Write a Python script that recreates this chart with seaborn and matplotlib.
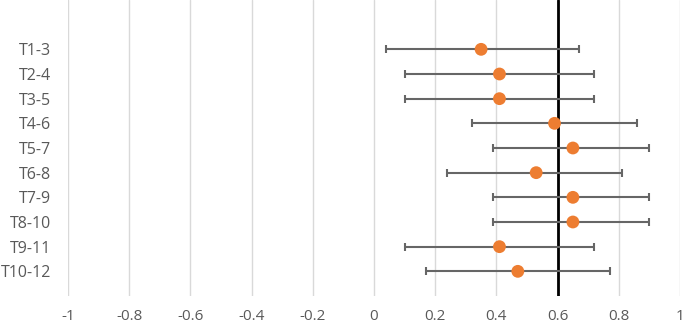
import numpy as np
import pandas as pd
import matplotlib
matplotlib.use("Agg")
import matplotlib.pyplot as plt
import seaborn as sns

# Data
labels = ['T1-3', 'T2-4', 'T3-5', 'T4-6', 'T5-7', 'T6-8', 'T7-9', 'T8-10', 'T9-11', 'T10-12']
estimate = [0.35, 0.41, 0.41, 0.59, 0.65, 0.53, 0.65, 0.65, 0.41, 0.47]
lower = [0.04, 0.10, 0.10, 0.32, 0.39, 0.24, 0.39, 0.39, 0.10, 0.17]
upper = [0.67, 0.72, 0.72, 0.86, 0.90, 0.81, 0.90, 0.90, 0.72, 0.77]
ref_value = 0.6
x_ticks = [-1, -0.8, -0.6, -0.4, -0.2, 0, 0.2, 0.4, 0.6, 0.8, 1]
tick_text = ['-1', '-0.8', '-0.6', '-0.4', '-0.2', '0', '0.2', '0.4', '0.6', '0.8', '1']

sns.set_theme(style="white")
plt.rcParams['font.family'] = ['Open Sans', 'DejaVu Sans']

df = pd.DataFrame({'label': labels, 'est': estimate, 'lo': lower, 'hi': upper})
df['pos'] = np.arange(len(df), 0, -1)  # T1-3 on top

fig = plt.figure(figsize=(6.85, 3.26), dpi=100)
ax = fig.add_axes([68 / 685, 30 / 326, 612 / 685, 296 / 326])

# vertical gridlines
for t in x_ticks:
    ax.axvline(t, color='#D9D9D9', lw=1.0, zorder=0)

# reference line
ax.axvline(ref_value, color='black', lw=2.0, zorder=1)

ax.errorbar(df['est'], df['pos'],
            xerr=[df['est'] - df['lo'], df['hi'] - df['est']],
            fmt='none', ecolor='#666666', elinewidth=1.5,
            capsize=3, capthick=1.5, zorder=2)
sns.scatterplot(data=df, x='est', y='pos', color='#ED7D31', s=85,
                edgecolor='none', zorder=3, ax=ax, legend=False)

ax.set_xlim(-1, 1)
ax.set_ylim(0, 12)
ax.set_xticks(x_ticks)
ax.set_xticklabels(tick_text, fontsize=11, color='#595959')
ax.set_yticks(df['pos'])
ax.set_yticklabels(df['label'], fontsize=11.5, color='#595959')
ax.tick_params(axis='x', length=0, pad=9)
ax.tick_params(axis='y', length=0, pad=12)
ax.set_xlabel('')
ax.set_ylabel('')
for s in ax.spines.values():
    s.set_visible(False)

fig.savefig('out.png', dpi=100)
